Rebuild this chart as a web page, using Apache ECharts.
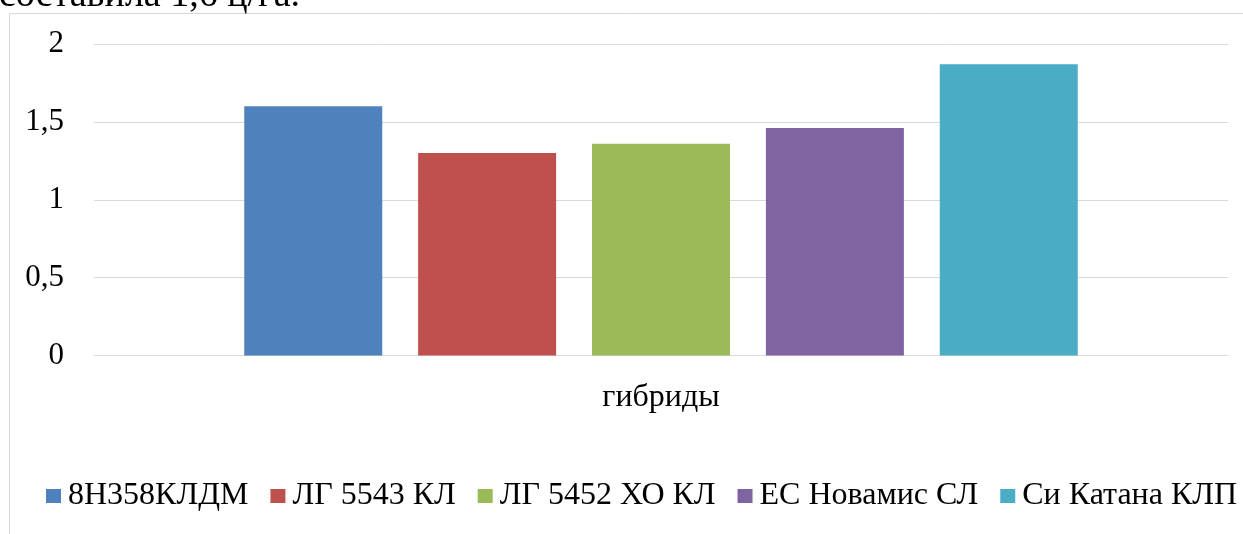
<!DOCTYPE html>
<html>
<head>
<meta charset="utf-8">
<script src="https://cdn.jsdelivr.net/npm/echarts@6/dist/echarts.min.js"></script>
<style>
html,body{margin:0;padding:0;background:#fff;}
#c{width:1243px;height:534px;}
</style>
</head>
<body>
<div id="c"></div>
<script>
const categories = ['гибриды'];
const seriesNames = ['8Н358КЛДМ', 'ЛГ 5543 КЛ', 'ЛГ 5452 ХО КЛ', 'ЕС Новамис СЛ', 'Си Катана КЛП'];
const seriesValues = [1.60, 1.30, 1.36, 1.46, 1.87];
const seriesColors = ['#4F81BD', '#C0504D', '#9BBB59', '#8064A2', '#4BACC6'];
const yTicks = [0, 0.5, 1, 1.5, 2];
const captionText = 'составила 1,6 ц/га.';

const FONT = '"Liberation Serif", "Times New Roman", serif';
const chart = echarts.init(document.getElementById('c'), null, {renderer: 'canvas'});

const series = seriesNames.map((name, i) => ({
  name: name,
  type: 'bar',
  data: [seriesValues[i]],
  barWidth: 138,
  barGap: '26%',
  itemStyle: {color: seriesColors[i]},
  emphasis: {disabled: true}
}));

chart.setOption({
  animation: false,
  backgroundColor: '#fff',
  textStyle: {fontFamily: FONT},
  graphic: [
    {
      type: 'rect',
      silent: true,
      shape: {x: 9.5, y: 13.5, width: 1400, height: 700},
      style: {fill: 'none', stroke: '#d9d9d9', lineWidth: 1}
    },
    {
      type: 'text',
      silent: true,
      x: -1,
      y: -4,
      style: {
        text: captionText,
        font: '38px ' + FONT,
        fill: '#000',
        verticalAlign: 'middle'
      }
    }
  ],
  grid: {left: 94, right: 15, top: 44, bottom: 178.5, containLabel: false},
  legend: {
    data: seriesNames,
    top: 475,
    left: 41,
    itemWidth: 15,
    itemHeight: 14,
    itemGap: 22,
    icon: 'rect',
    textStyle: {fontFamily: FONT, fontSize: 32, color: '#000', padding: [0, 0, 0, 2]}
  },
  xAxis: {
    type: 'category',
    data: categories,
    axisLine: {show: true, lineStyle: {color: '#d9d9d9', width: 1}},
    axisTick: {show: false},
    axisLabel: {fontFamily: FONT, fontSize: 32, color: '#000', margin: 26}
  },
  yAxis: {
    type: 'value',
    min: yTicks[0],
    max: yTicks[yTicks.length - 1],
    interval: yTicks[1] - yTicks[0],
    axisLine: {show: false},
    axisTick: {show: false},
    axisLabel: {
      fontFamily: FONT, fontSize: 31, color: '#000', margin: 30,
      formatter: v => String(v).replace('.', ',')
    },
    splitLine: {lineStyle: {color: '#d9d9d9', width: 1}}
  },
  series: series
});
</script>
</body>
</html>
